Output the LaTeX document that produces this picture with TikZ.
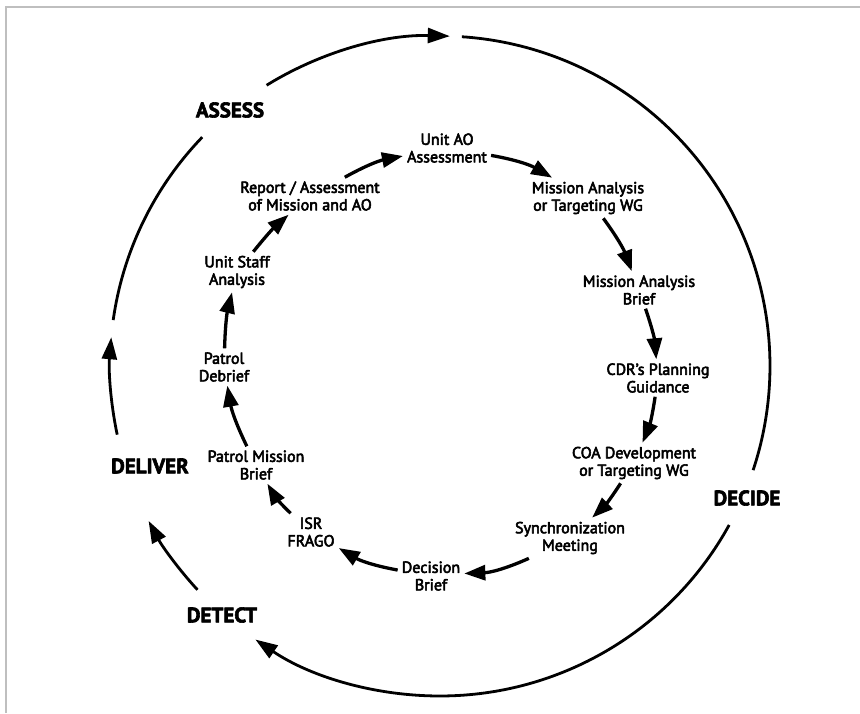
\documentclass[tikz,border=0pt]{standalone}
\usepackage{fontspec}
\setmainfont{PT Sans}
\newfontfamily\ptstage{PT Sans}
\newfontfamily\ptphase{PT Sans Bold}
\newcommand\heavytext[1]{\special{pdf:literal direct 2 Tr #1 w 1 j}}
\usetikzlibrary{arrows.meta}
\begin{document}
\begin{tikzpicture}[x=1pt,y=-1pt,
  phase/.style={font={\ptphase\fontsize{21}{24}\selectfont\heavytext{0.6}}, inner sep=0pt},
  stage/.style={font={\ptstage\fontsize{16}{17.5}\selectfont\heavytext{0.55}}, align=center, inner sep=4pt},
  ring/.style={line width=2.8pt},
  ringarr/.style={line width=2.8pt, -{Triangle[length=22pt,width=15pt]}},
  arr/.style={line width=3.3pt, -{Triangle[length=21pt,width=15pt]}},
  frame/.style={draw=black!25, line width=2.4pt}
]
\useasboundingbox (0,0) rectangle (860,713);
% frame
\draw[frame] (6,713) -- (6,7) -- (860,7);

% outer ring
\coordinate (O) at (440,366);
\draw[ringarr] (O) ++(238.3:330) arc[start angle=238.3, end angle=271.7, radius=330];
\draw[ring]    (O) ++(273.8:330) arc[start angle=273.8, end angle=378.4, radius=330];
\draw[ringarr] (O) ++(28.8:330)  arc[start angle=28.8,  end angle=124.0, radius=330];
\draw[ringarr] (O) ++(137.3:330) arc[start angle=137.3, end angle=152.0, radius=330];
\draw[ringarr] (O) ++(168.0:330) arc[start angle=168.0, end angle=185.0, radius=330];
\draw[ring]    (O) ++(188.0:330) arc[start angle=188.0, end angle=223.9, radius=330];

% phase labels
\node[phase] (assess)  at (230,110) {ASSESS};
\node[phase] (decide)  at (747,498) {DECIDE};
\node[phase] (detect)  at (222,615) {DETECT};
\node[phase] (deliver) at (150,466) {DELIVER};

% inner stages
\node[stage] (s1)  at (447,148) {Unit AO\\Assessment};
\node[stage] (s2)  at (588,198) {Mission Analysis\\or Targeting WG};
\node[stage] (s3)  at (639,290) {Mission Analysis\\Brief};
\node[stage] (s4)  at (658,378) {CDR’s Planning\\Guidance};
\node[stage] (s5)  at (634,463) {COA Development\\or Targeting WG};
\node[stage] (s6)  at (570,538) {Synchronization\\Meeting};
\node[stage] (s7)  at (431,576) {Decision\\Brief};
\node[stage] (s8)  at (311,532) {ISR\\FRAGO};
\node[stage] (s9)  at (256,465) {Patrol Mission\\Brief};
\node[stage] (s10) at (224,367) {Patrol\\Debrief};
\node[stage] (s11) at (237,272) {Unit Staff\\Analysis};
\node[stage] (s12) at (310,196) {Report / Assessment\\of Mission and AO};

% inner arrows
\draw[arr] (s12) to[bend left=9]  (s1);
\draw[arr] (s1)  to[bend left=10] (s2);
\draw[arr] (s2)  to[bend left=8]  (s3);
\draw[arr] (s3)  to[bend left=7]  (s4);
\draw[arr] (s4)  to[bend left=7]  (s5);
\draw[arr] (s5)  to[bend left=7]  (s6);
\draw[arr] (s6)  to[bend left=11] (s7);
\draw[arr] (s7)  to[bend left=10] (s8);
\draw[arr] (s8)  to[bend left=8]  (s9);
\draw[arr] (s9)  to[bend left=8]  (s10);
\draw[arr] (s10) to[bend left=6]  (s11);
\draw[arr] (s11) to[bend left=5]  (s12);
\end{tikzpicture}
\end{document}
